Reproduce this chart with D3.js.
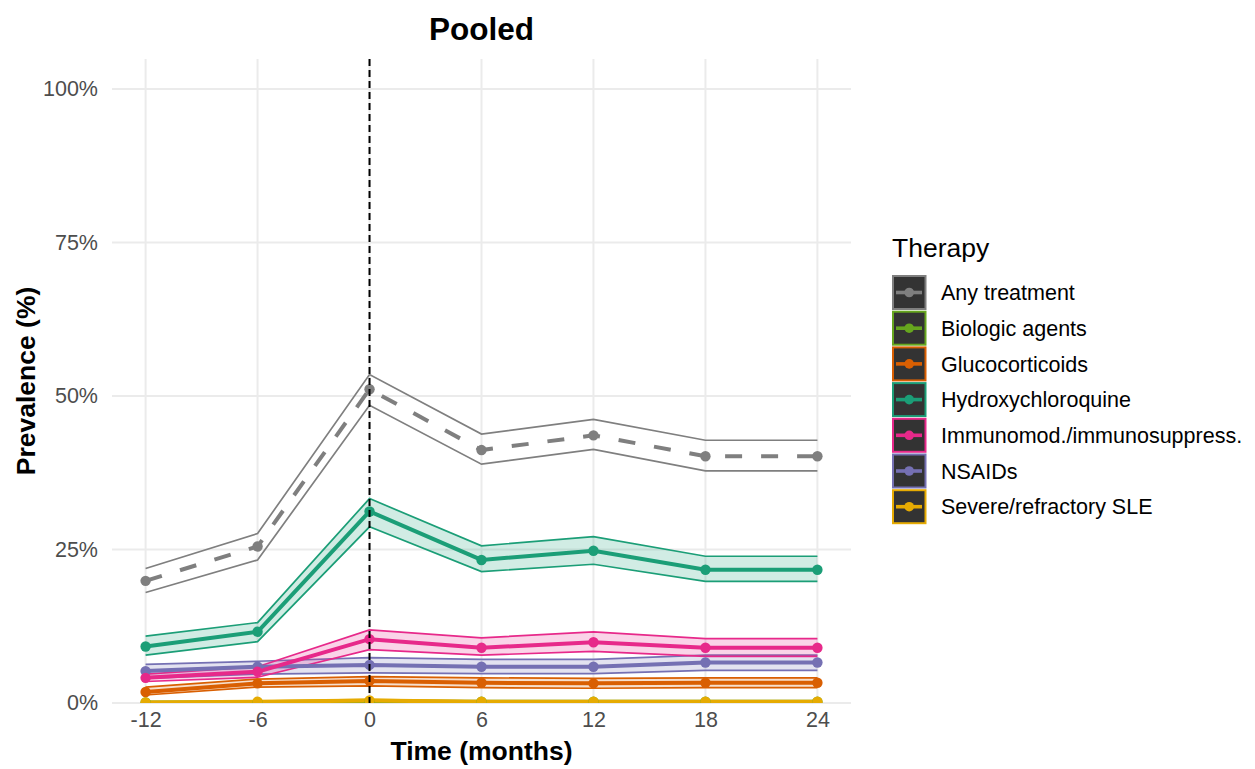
<!DOCTYPE html>
<html><head><meta charset="utf-8">
<script src="https://cdn.jsdelivr.net/npm/d3@7"></script>
<style>body{margin:0;background:#fff;} svg{display:block;font-family:"Liberation Sans",Arial,sans-serif;}</style>
</head><body>
<script>
const months = [-12, -6, 0, 6, 12, 18, 24];
const therapies = ["Any treatment","Biologic agents","Glucocorticoids","Hydroxychloroquine","Immunomod./immunosuppress.","NSAIDs","Severe/refractory SLE"];
const colors = ["#7F7F7F","#66A61E","#D95F02","#1B9E77","#E7298A","#7570B3","#E6AB02"];
const yTicks = [0, 25, 50, 75, 100];
const yTickLabels = ["0%","25%","50%","75%","100%"];
const xTickLabels = ["-12","-6","0","6","12","18","24"];

const anyEst = [19.9, 25.5, 51.1, 41.2, 43.6, 40.2, 40.2];
const anyLo  = [18.0, 23.3, 48.5, 38.9, 41.3, 37.8, 37.8];
const anyHi  = [21.9, 27.6, 53.5, 43.8, 46.2, 42.8, 42.8];
const bioEst = [0.1, 0.1, 0.2, 0.2, 0.2, 0.2, 0.2];
const bioLo  = [0.0, 0.0, 0.1, 0.1, 0.1, 0.1, 0.1];
const bioHi  = [0.2, 0.2, 0.3, 0.3, 0.3, 0.3, 0.3];
const gcEst  = [1.8, 3.2, 3.6, 3.3, 3.2, 3.3, 3.3];
const gcLo   = [1.3, 2.6, 2.8, 2.5, 2.4, 2.5, 2.5];
const gcHi   = [2.6, 3.9, 4.3, 4.1, 4.0, 4.1, 4.1];
const hcqEst = [9.2, 11.6, 31.2, 23.3, 24.8, 21.7, 21.7];
const hcqLo  = [7.8, 10.0, 28.7, 21.4, 22.6, 19.8, 19.8];
const hcqHi  = [10.9, 13.1, 33.3, 25.6, 27.1, 23.9, 23.9];
const imEst  = [4.1, 5.1, 10.4, 9.0, 9.9, 9.0, 9.0];
const imLo   = [3.5, 4.2, 8.7, 7.8, 8.4, 7.6, 7.6];
const imHi   = [4.7, 5.9, 11.9, 10.6, 11.6, 10.5, 10.5];
const nsEst  = [5.2, 5.9, 6.2, 5.9, 5.9, 6.6, 6.6];
const nsLo   = [4.0, 4.7, 4.9, 4.8, 4.8, 5.3, 5.3];
const nsHi   = [6.3, 6.8, 7.4, 7.1, 7.1, 7.8, 7.8];
const sevEst = [0.1, 0.2, 0.4, 0.2, 0.2, 0.2, 0.2];
const sevLo  = [0.0, 0.1, 0.2, 0.1, 0.1, 0.1, 0.1];
const sevHi  = [0.2, 0.3, 0.6, 0.3, 0.3, 0.3, 0.3];

const series = [
  {name: therapies[0], color: colors[0], est: anyEst, lo: anyLo, hi: anyHi, dashed: true, fill: false},
  {name: therapies[1], color: colors[1], est: bioEst, lo: bioLo, hi: bioHi},
  {name: therapies[2], color: colors[2], est: gcEst, lo: gcLo, hi: gcHi},
  {name: therapies[3], color: colors[3], est: hcqEst, lo: hcqLo, hi: hcqHi},
  {name: therapies[5], color: colors[5], est: nsEst, lo: nsLo, hi: nsHi},
  {name: therapies[4], color: colors[4], est: imEst, lo: imLo, hi: imHi},
  {name: therapies[6], color: colors[6], est: sevEst, lo: sevLo, hi: sevHi}
];

const W = 1255, H = 769;
const P = {l: 112, r: 851, t: 59, b: 703};
const svg = d3.select("body").append("svg").attr("width", W).attr("height", H);

const x = d3.scaleLinear().domain([-13.8, 25.8]).range([P.l, P.r]);
const y = d3.scaleLinear().domain([0, 104.9]).range([P.b, P.t]);

// grid
const grid = svg.append("g");
grid.selectAll("line.h").data(yTicks).join("line")
  .attr("x1", P.l).attr("x2", P.r).attr("y1", d => y(d)).attr("y2", d => y(d))
  .attr("stroke", "#EBEBEB").attr("stroke-width", 2);
grid.selectAll("line.v").data(months).join("line")
  .attr("y1", P.t).attr("y2", P.b).attr("x1", d => x(d)).attr("x2", d => x(d))
  .attr("stroke", "#EBEBEB").attr("stroke-width", 2);

// axes text
const yAxis = d3.axisLeft(y).tickValues(yTicks).tickFormat((d, i) => yTickLabels[i]).tickSize(0).tickPadding(14);
const ga = svg.append("g").attr("transform", `translate(${P.l},0)`).call(yAxis);
ga.select(".domain").remove();
ga.selectAll("text").attr("font-size", 21.5).attr("fill", "#4D4D4D").attr("font-family", "Liberation Sans, Arial, sans-serif");

const xAxis = d3.axisBottom(x).tickValues(months).tickFormat((d, i) => xTickLabels[i]).tickSize(0).tickPadding(9);
const gx = svg.append("g").attr("transform", `translate(0,${P.b})`).call(xAxis);
gx.select(".domain").remove();
gx.selectAll("text").attr("font-size", 21.5).attr("fill", "#4D4D4D").attr("font-family", "Liberation Sans, Arial, sans-serif");

svg.append("text").attr("x", (P.l + P.r) / 2).attr("y", 760).attr("text-anchor", "middle")
  .attr("font-size", 26.5).attr("font-weight", "bold").text("Time (months)");
svg.append("text").attr("transform", `translate(35,${(P.t + P.b) / 2}) rotate(-90)`).attr("text-anchor", "middle")
  .attr("font-size", 26.5).attr("font-weight", "bold").text("Prevalence (%)");
svg.append("text").attr("x", (P.l + P.r) / 2).attr("y", 40).attr("text-anchor", "middle")
  .attr("font-size", 31.5).attr("font-weight", "bold").text("Pooled");

// clip
svg.append("clipPath").attr("id", "clip").append("rect")
  .attr("x", P.l).attr("y", P.t).attr("width", P.r - P.l).attr("height", P.b - P.t);
const plot = svg.append("g").attr("clip-path", "url(#clip)");

const area = d3.area().x((d) => x(d.m)).y0(d => y(d.lo)).y1(d => y(d.hi));
const lineEst = d3.line().x(d => x(d.m)).y(d => y(d.est));
const lineLo = d3.line().x(d => x(d.m)).y(d => y(d.lo));
const lineHi = d3.line().x(d => x(d.m)).y(d => y(d.hi));

const rows = s => months.map((m, i) => ({m, est: s.est[i], lo: s.lo[i], hi: s.hi[i]}));

// ribbons
series.forEach(s => {
  const r = rows(s);
  if (s.fill !== false) {
    plot.append("path").attr("d", area(r)).attr("fill", s.color).attr("fill-opacity", 0.2);
  }
  plot.append("path").attr("d", lineLo(r)).attr("fill", "none").attr("stroke", s.color).attr("stroke-width", 1.7);
  plot.append("path").attr("d", lineHi(r)).attr("fill", "none").attr("stroke", s.color).attr("stroke-width", 1.7);
});

// lines
series.forEach(s => {
  plot.append("path").attr("d", lineEst(rows(s))).attr("fill", "none")
    .attr("stroke", s.color).attr("stroke-width", 4)
    .attr("stroke-dasharray", s.dashed ? "17,19" : null);
});
// points
series.forEach(s => {
  plot.selectAll(null).data(rows(s)).join("circle")
    .attr("cx", d => x(d.m)).attr("cy", d => y(d.est)).attr("r", 5.2).attr("fill", s.color);
});

// vertical reference line
plot.append("line").attr("x1", x(0)).attr("x2", x(0)).attr("y1", P.t).attr("y2", P.b)
  .attr("stroke", "#000").attr("stroke-width", 2).attr("stroke-dasharray", "7,4");

// legend
const lg = svg.append("g");
lg.append("text").attr("x", 892).attr("y", 257).attr("font-size", 26.5).text("Therapy");
therapies.forEach((t, i) => {
  const y0 = 276 + i * 35.7;
  const g = lg.append("g");
  g.append("rect").attr("x", 893).attr("y", y0).attr("width", 32.5).attr("height", 33)
    .attr("fill", "#333333").attr("stroke", colors[i]).attr("stroke-width", 2);
  g.append("line").attr("x1", 896).attr("x2", 922).attr("y1", y0 + 16.5).attr("y2", y0 + 16.5)
    .attr("stroke", colors[i]).attr("stroke-width", 3.6);
  g.append("circle").attr("cx", 909.2).attr("cy", y0 + 16.5).attr("r", 4.8).attr("fill", colors[i]);
  g.append("text").attr("x", 941).attr("y", y0 + 16.5).attr("dy", "0.36em").attr("font-size", 21.5).text(t);
});
</script>
</body></html>
